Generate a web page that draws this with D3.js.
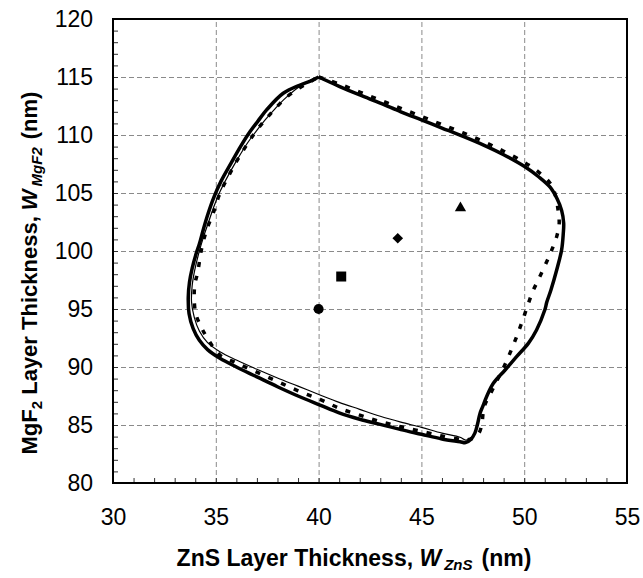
<!DOCTYPE html>
<html>
<head>
<meta charset="utf-8">
<script src="https://cdn.jsdelivr.net/npm/d3@7"></script>
<style>
    body { margin: 0; background: #fff; }
    text { font-family: Arial, "Liberation Sans", sans-serif; }
</style>
</head>
<body>
<div class="js-chart"></div>
<script>
'use strict';

//axis ticks
var xTicks = [30, 35, 40, 45, 50, 55];
var yTicks = [80, 85, 90, 95, 100, 105, 110, 115, 120];

//thick solid contour [ZnS, MgF2]
var thickCurve = [
    [40, 115], [41, 114.2], [42, 113.45], [43, 112.75], [44, 112.0], [45, 111.3],
    [46, 110.6], [47, 109.9], [48, 109.15], [49, 108.3], [50, 107.3], [50.7, 106.4],
    [51.26, 105.5], [51.6, 104.5], [51.82, 103.5], [51.92, 102.4], [51.9, 101.5],
    [51.82, 100.1], [51.58, 98.36], [51.3, 96.64], [51.1, 95.6], [51.0, 94.91],
    [50.6, 93.19], [50.2, 92.04], [49.63, 90.89], [49.07, 89.74], [48.5, 88.59],
    [48.17, 87.44], [47.98, 86.58], [47.85, 86.0], [47.72, 85.0], [47.6, 84.3],
    [47.4, 83.75], [47.15, 83.48], [46.88, 83.56], [46, 83.8], [45, 84.2], [44, 84.6],
    [43, 85.05], [42, 85.5], [41, 86.05], [40.07, 86.72], [39, 87.5], [38, 88.3],
    [37, 89.15], [36, 90.0], [35.2, 90.75], [34.6, 91.5], [34.2, 92.3], [33.9, 93.3],
    [33.7, 94.6], [33.66, 96.0], [33.72, 97.3], [33.85, 98.5], [34.05, 99.8],
    [34.2, 100.6], [34.4, 101.9], [34.63, 103.25], [34.9, 104.6], [35.25, 106.0],
    [35.75, 107.6], [36.2, 109.0], [36.66, 110.28], [37.05, 111.2], [37.47, 112.16],
    [38.28, 113.6], [39.1, 114.31], [39.6, 114.65], [40, 115]
];

//thin solid contour
var thinCurve = [
    [40, 115], [41, 114.2], [42, 113.45], [43, 112.75], [44, 112.0], [45, 111.3],
    [46, 110.6], [47, 109.9], [48, 109.15], [49, 108.3], [50, 107.3], [50.7, 106.4],
    [51.26, 105.5], [51.6, 104.5], [51.82, 103.5], [51.92, 102.4], [51.9, 101.5],
    [51.82, 100.1], [51.58, 98.36], [51.3, 96.64], [51.1, 95.6], [51.0, 94.91],
    [50.6, 93.19], [50.2, 92.04], [49.63, 90.89], [49.07, 89.74], [48.5, 88.59],
    [48.17, 87.44], [47.98, 86.58], [47.85, 86.0], [47.72, 85.0], [47.6, 84.3],
    [47.4, 83.85], [47.15, 83.7], [46.88, 83.94], [46, 84.3], [45, 84.8], [44, 85.25],
    [43, 85.75], [42, 86.35], [41, 86.95], [40.07, 87.59], [39, 88.35], [38, 89.05],
    [37, 89.8], [36, 90.6], [35.2, 91.32], [34.6, 92.1], [34.2, 93.1], [33.95, 94.3],
    [33.82, 95.6], [33.85, 97.0], [33.97, 98.3], [34.17, 99.8], [34.4, 101.2],
    [34.65, 102.5], [34.9, 103.8], [35.2, 105.1], [35.6, 106.5], [36.05, 107.9],
    [36.5, 109.2], [36.95, 110.3], [37.4, 111.3], [37.9, 112.3], [38.4, 113.2],
    [39.1, 114.2], [39.6, 114.65], [40, 115]
];

//dotted contour
var dottedCurve = [
    [40, 115], [41, 114.4], [42, 113.7], [43, 113.0], [44, 112.3], [45, 111.6],
    [46, 110.9], [47, 110.2], [48, 109.45], [49, 108.6], [50, 107.65], [50.7, 106.8],
    [51.26, 105.85], [51.5, 104.9], [51.65, 103.5], [51.7, 102.3], [51.58, 101.24],
    [51.34, 100.09], [51.06, 98.94], [50.72, 97.64], [50.41, 96.49], [50.15, 95.2],
    [49.87, 93.76], [49.6, 92.47], [49.27, 91.03], [48.98, 89.88], [48.69, 88.88],
    [48.37, 87.73], [48.1, 86.8], [48.0, 86.0], [47.95, 85.2], [47.8, 84.3],
    [47.5, 83.85], [47.1, 83.7], [46.88, 83.76], [46, 84.05], [45, 84.45], [44, 84.85],
    [43, 85.3], [42, 85.85], [41, 86.45], [40.07, 87.2], [39, 87.95], [38, 88.75],
    [37, 89.55], [36, 90.35], [35.2, 91.03], [34.55, 92.61], [34.28, 93.48],
    [34.02, 94.63], [33.95, 96.36], [34.0, 97.3], [34.11, 98.08], [34.31, 100.2],
    [34.55, 101.8], [34.87, 103.25], [35.2, 104.97], [35.6, 106.4], [36.0, 107.7],
    [36.45, 109.0], [36.9, 110.2], [37.35, 111.2], [37.8, 112.1], [38.4, 113.2],
    [39.1, 114.1], [39.6, 114.6], [40, 115]
];

//single design points
var pointZnS = [40, 41.1, 43.85, 46.9];
var pointMgF2 = [95, 97.8, 101.1, 103.7];
var pointShape = ['circle', 'square', 'diamond', 'triangle'];

var W = 643, H = 578;
var margin = {top: 19, right: 16, bottom: 95, left: 113};
var w = W - margin.left - margin.right;
var h = H - margin.top - margin.bottom;

var svg = d3.select('.js-chart').append('svg')
    .attr('width', W)
    .attr('height', H);
var vis = svg.append('g')
    .attr('transform', 'translate(' + margin.left + ',' + margin.top + ')');

var x = d3.scaleLinear().domain([30, 55]).range([0, w]);
var y = d3.scaleLinear().domain([80, 120]).range([h, 0]);

//dashed grid
vis.append('g')
    .attr('class', 'grid')
    .attr('transform', 'translate(0,' + h + ')')
    .call(d3.axisBottom(x).tickValues(xTicks.slice(1, -1)).tickSize(-h).tickFormat(''));
vis.append('g')
    .attr('class', 'grid')
    .call(d3.axisLeft(y).tickValues(yTicks.slice(1, -1)).tickSize(-w).tickFormat(''));
vis.selectAll('.grid .domain').remove();
vis.selectAll('.grid line')
    .style('stroke', '#8a8a8a')
    .style('stroke-width', 1)
    .style('stroke-dasharray', '5,3');

//minor ticks inside the frame
vis.append('g')
    .attr('class', 'minor')
    .attr('transform', 'translate(0,' + h + ')')
    .call(d3.axisBottom(x).tickValues(d3.range(31, 55)).tickSize(-5).tickFormat(''));
vis.append('g')
    .attr('class', 'minor')
    .call(d3.axisLeft(y).tickValues(d3.range(81, 120)).tickSize(-5).tickFormat(''));
vis.selectAll('.minor .domain').remove();
vis.selectAll('.minor line').style('stroke', '#333').style('stroke-width', 1);

//tick labels
var xAxis = vis.append('g')
    .attr('transform', 'translate(0,' + h + ')')
    .call(d3.axisBottom(x).tickValues(xTicks).tickSize(0).tickPadding(26));
var yAxis = vis.append('g')
    .call(d3.axisLeft(y).tickValues(yTicks).tickSize(0).tickPadding(20));
xAxis.select('.domain').remove();
yAxis.select('.domain').remove();
svg.selectAll('.tick text')
    .style('font-size', '23px')
    .style('font-family', 'Arial, "Liberation Sans", sans-serif')
    .attr('fill', '#000');

//contours
var line = d3.line()
    .x(function (d) { return x(d[0]); })
    .y(function (d) { return y(d[1]); })
    .curve(d3.curveCatmullRom.alpha(0.5));

vis.append('path')
    .datum(thinCurve)
    .attr('d', line)
    .style('fill', 'none')
    .style('stroke', '#000')
    .style('stroke-width', 1.2);
vis.append('path')
    .datum(dottedCurve)
    .attr('d', line)
    .style('fill', 'none')
    .style('stroke', '#000')
    .style('stroke-width', 3.5)
    .style('stroke-dasharray', '5,9');
vis.append('path')
    .datum(thickCurve)
    .attr('d', line)
    .style('fill', 'none')
    .style('stroke', '#000')
    .style('stroke-width', 3.5)
    .style('stroke-linejoin', 'round');

//markers
var symbols = {
    circle: d3.symbol().type(d3.symbolCircle).size(80),
    square: d3.symbol().type(d3.symbolSquare).size(100),
    diamond: d3.symbol().type(d3.symbolSquare).size(56),
    triangle: d3.symbol().type(d3.symbolTriangle).size(55)
};
vis.selectAll('.pt')
    .data(pointShape)
    .enter()
    .append('path')
    .attr('class', 'pt')
    .attr('d', function (d) { return symbols[d](); })
    .attr('transform', function (d, i) {
        var t = 'translate(' + x(pointZnS[i]) + ',' + y(pointMgF2[i]) + ')';
        return d === 'diamond' ? t + ' rotate(45)' : t;
    })
    .style('fill', '#000');

//frame
vis.append('rect')
    .attr('width', w)
    .attr('height', h)
    .style('fill', 'none')
    .style('stroke', '#000')
    .style('stroke-width', 2);

//axis titles
var xTitle = svg.append('text')
    .attr('x', margin.left + w / 2 - 16)
    .attr('y', 566)
    .attr('text-anchor', 'middle')
    .style('font-size', '23px')
    .style('font-weight', 'bold');
xTitle.append('tspan').text('ZnS Layer Thickness, ');
xTitle.append('tspan').style('font-style', 'italic').text('W');
xTitle.append('tspan').style('font-style', 'italic').style('font-size', '15px')
    .attr('dx', 3).attr('dy', 4).text('ZnS');
xTitle.append('tspan').attr('dy', -4).attr('dx', 9).text('(nm)');

var yTitle = svg.append('text')
    .attr('transform', 'translate(37,' + (margin.top + h / 2 + 22) + ') rotate(-90)')
    .attr('text-anchor', 'middle')
    .style('font-size', '22px')
    .style('font-weight', 'bold');
yTitle.append('tspan').text('MgF');
yTitle.append('tspan').style('font-size', '15px').attr('dy', 5).text('2');
yTitle.append('tspan').attr('dy', -5).text(' Layer Thickness, ');
yTitle.append('tspan').style('font-style', 'italic').text('W');
yTitle.append('tspan').style('font-style', 'italic').style('font-size', '15px')
    .attr('dx', 3).attr('dy', 5).text('MgF2');
yTitle.append('tspan').attr('dy', -5).attr('dx', 8).text('(nm)');
</script>
</body>
</html>
